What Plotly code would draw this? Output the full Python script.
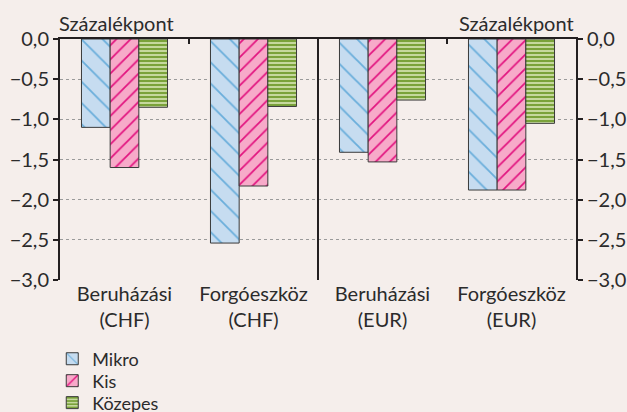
import plotly.graph_objects as go

categories = ["Beruházási<br>(CHF)", "Forgóeszköz<br>(CHF)", "Beruházási<br>(EUR)", "Forgóeszköz<br>(EUR)"]
mikro = [-1.10, -2.54, -1.41, -1.88]
kis = [-1.60, -1.83, -1.53, -1.88]
kozepes = [-0.85, -0.84, -0.76, -1.05]
series_names = ["Mikro", "Kis", "Közepes"]
y_ticks = [0, -0.5, -1.0, -1.5, -2.0, -2.5, -3.0]
y_ticktext = ["0,0", "\u22120,5", "\u22121,0", "\u22121,5", "\u22122,0", "\u22122,5", "\u22123,0"]
unit_label = "Százalékpont"

FONT = "Lato"
FS = 20
TXT = "#2b2b2b"
BG = "#F5EEEB"
AX = "#231F20"

styles = [
    dict(fill="#C6DCF0", line="#6AAEDB", shape="\\", size=15, solidity=0.12),
    dict(fill="#F7AAC9", line="#E2137F", shape="/", size=10, solidity=0.17),
    dict(fill="#C5D89D", line="#7AA23A", shape="-", size=4, solidity=0.5),
]
legend_ids = ["legend", "legend2", "legend3"]
legend_y = [-0.328, -0.419, -0.510]

x_pos = list(range(len(categories)))
fig = go.Figure()
for name, vals, st, lg in zip(series_names, [mikro, kis, kozepes], styles, legend_ids):
    fig.add_trace(go.Bar(
        x=x_pos, y=vals, name=name, legend=lg,
        marker=dict(
            color=st["fill"],
            line=dict(color="#3a3a3a", width=1),
            pattern=dict(shape=st["shape"], fgcolor=st["line"], bgcolor=st["fill"],
                         size=st["size"], solidity=st["solidity"], fillmode="replace"),
        ),
    ))

# helper trace to instantiate the secondary (top/right) axes
fig.add_trace(go.Scatter(x=[x_pos[0]], y=[mikro[0]], xaxis="x2", yaxis="y2",
                         mode="markers", marker=dict(opacity=0), showlegend=False,
                         hoverinfo="skip"))

axis_font = dict(family=FONT, size=FS, color=TXT)

legend_common = dict(x=-0.015, xanchor="left", yanchor="middle",
                     bgcolor="rgba(0,0,0,0)", font=dict(family=FONT, size=18, color=TXT),
                     itemwidth=30)

fig.update_layout(
    width=627, height=412,
    margin=dict(l=60, r=51, t=39, b=132, autoexpand=False),
    paper_bgcolor=BG, plot_bgcolor=BG,
    barmode="group", bargap=0.333, bargroupgap=0,
    font=dict(family=FONT, size=FS, color=TXT),
    showlegend=True,
    legend=dict(y=legend_y[0], **legend_common),
    legend2=dict(y=legend_y[1], **legend_common),
    legend3=dict(y=legend_y[2], **legend_common),
    xaxis=dict(range=[-0.5, 3.5], tickvals=x_pos, ticktext=categories,
               showline=False, showgrid=False, zeroline=False, ticks="",
               tickfont=axis_font, fixedrange=True),
    xaxis2=dict(range=[-0.5, 3.5], overlaying="x", side="top", anchor="y",
                showline=True, linecolor=AX, linewidth=2, mirror=False,
                tickvals=[0.5, 2.5], ticks="inside", ticklen=5, tickwidth=2,
                tickcolor=AX, showticklabels=False, showgrid=False, zeroline=False),
    yaxis=dict(range=[-3.0, 0.0], tickvals=y_ticks, ticktext=y_ticktext,
               showline=True, linecolor=AX, linewidth=2,
               ticks="outside", ticklen=5, tickwidth=2, tickcolor=AX,
               showgrid=True, gridcolor="#9a9a9a", griddash="dot", gridwidth=1,
               zeroline=False, tickfont=axis_font),
    yaxis2=dict(range=[-3.0, 0.0], overlaying="y", side="right", anchor="x",
                tickvals=y_ticks, ticktext=y_ticktext,
                showline=True, linecolor=AX, linewidth=2,
                ticks="outside", ticklen=5, tickwidth=2, tickcolor=AX,
                showgrid=False, zeroline=False, tickfont=axis_font),
)

# middle divider between CHF and EUR groups
fig.add_shape(type="line", xref="x2", yref="paper", x0=1.5, x1=1.5, y0=0, y1=1,
              line=dict(color=AX, width=2))

fig.add_annotation(text=unit_label, xref="paper", yref="paper", x=0, y=1,
                   xanchor="left", yanchor="bottom", xshift=-3, yshift=2,
                   showarrow=False, font=dict(family=FONT, size=FS, color=TXT))
fig.add_annotation(text=unit_label, xref="paper", yref="paper", x=1, y=1,
                   xanchor="right", yanchor="bottom", xshift=0, yshift=2,
                   showarrow=False, font=dict(family=FONT, size=FS, color=TXT))

fig.write_html("out.html", config={"displayModeBar": False},
               post_script="document.body.style.margin='0';document.body.style.background='%s';" % BG)
